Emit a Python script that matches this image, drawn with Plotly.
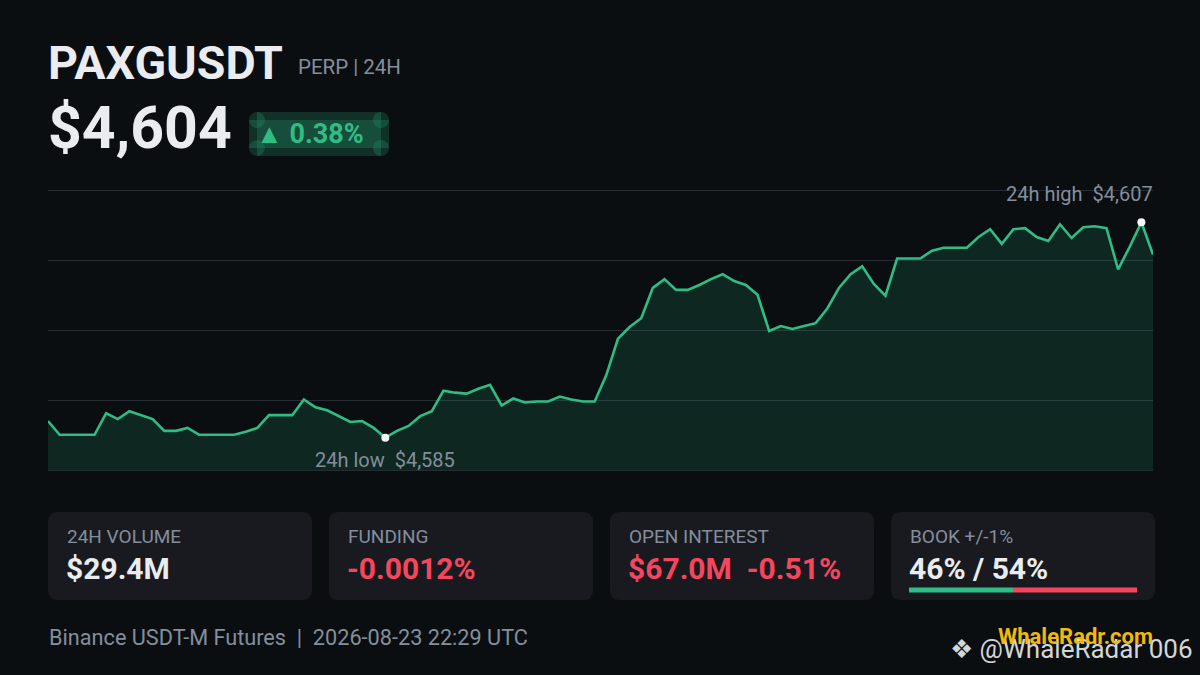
import numpy as np
import plotly.graph_objects as go

# Dados do gráfico (preço a cada 15 min, 24h)
symbol = "PAXGUSDT"
subtitle = "PERP | 24H"
last_price = "$4,604"
change_pct = "▲ 0.38%"

prices = [
    4586.7, 4585.3, 4585.3, 4585.3, 4585.3, 4587.5, 4586.9, 4587.7, 4587.3, 4586.9,
    4585.7, 4585.7, 4586.0, 4585.3, 4585.3, 4585.3, 4585.3, 4585.6, 4586.0, 4587.3,
    4587.3, 4587.3, 4588.9, 4588.1, 4587.8, 4587.2, 4586.6, 4586.7, 4586.0, 4585.0,
    4585.7, 4586.2, 4587.2, 4587.7, 4589.8, 4589.6, 4589.5, 4590.0, 4590.4, 4588.3,
    4589.0, 4588.6, 4588.7, 4588.7, 4589.2, 4588.9, 4588.7, 4588.7, 4591.4, 4595.1,
    4596.3, 4597.2, 4600.3, 4601.2, 4600.1, 4600.1, 4600.6, 4601.2, 4601.7, 4601.0,
    4600.6, 4599.6, 4595.9, 4596.4, 4596.1, 4596.4, 4596.7, 4598.2, 4600.3, 4601.7,
    4602.5, 4600.7, 4599.5, 4603.3, 4603.3, 4603.3, 4604.1, 4604.4, 4604.4, 4604.4,
    4605.5, 4606.3, 4604.8, 4606.3, 4606.4, 4605.5, 4605.1, 4606.8, 4605.4, 4606.5,
    4606.6, 4606.4, 4602.2, 4604.5, 4607.0, 4603.7,
]

card_labels = ["24H VOLUME", "FUNDING", "OPEN INTEREST", "BOOK +/-1%"]
card_values = ["$29.4M", "-0.0012%", "$67.0M&nbsp; -0.51%", "46% / 54%"]
card_colors = ["#eaecef", "#f6465d", "#f6465d", "#eaecef"]
book_bid = 46
book_ask = 54

footer = "Binance USDT-M Futures &nbsp;|&nbsp; 2026-08-23 22:29 UTC"

# Cores
BG = "#0b0e11"
CARD = "#181a20"
GREEN = "#2ebd85"
RED = "#f6465d"
WHITE = "#eaecef"
GREY = "#848e9c"
GRID = "#272b32"
W, H = 1200, 675


def px(x):
    return x / W


def py(y):
    return 1 - y / H


def rounded_rect(x0, y0, x1, y1, r):
    # caminho com cantos arredondados em coordenadas de papel
    return (
        f"M {px(x0 + r)} {py(y0)} L {px(x1 - r)} {py(y0)} "
        f"Q {px(x1)} {py(y0)} {px(x1)} {py(y0 + r)} "
        f"L {px(x1)} {py(y1 - r)} Q {px(x1)} {py(y1)} {px(x1 - r)} {py(y1)} "
        f"L {px(x0 + r)} {py(y1)} Q {px(x0)} {py(y1)} {px(x0)} {py(y1 - r)} "
        f"L {px(x0)} {py(y0 + r)} Q {px(x0)} {py(y0)} {px(x0 + r)} {py(y0)} Z"
    )


x_idx = list(range(len(prices)))
lo, hi = min(prices), max(prices)
i_lo, i_hi = prices.index(lo), prices.index(hi)
pad = (hi - lo) * 0.15
grid_vals = list(np.linspace(lo - pad, hi + pad, 5))

# área do gráfico: 190..470 px; folga de 4 px para as linhas das bordas
top_px, bot_px, gap_px = 190, 470, 4
units_per_px = (grid_vals[-1] - grid_vals[0]) / (bot_px - top_px)
y_range = [grid_vals[0] - gap_px * units_per_px, grid_vals[-1] + gap_px * units_per_px]

fig = go.Figure()

# linha de base invisível (fundo da área preenchida)
fig.add_trace(go.Scatter(
    x=x_idx, y=[grid_vals[0]] * len(prices),
    mode="lines", line=dict(width=0, color=BG),
    hoverinfo="skip",
))

fig.add_trace(go.Scatter(
    x=x_idx, y=prices,
    mode="lines",
    line=dict(color=GREEN, width=2.6),
    fill="tonexty",
    fillcolor="rgba(46,189,133,0.14)",
    hoverinfo="skip",
))

# pontos de mínima e máxima
fig.add_trace(go.Scatter(
    x=[i_lo, i_hi], y=[lo, hi],
    mode="markers",
    marker=dict(color="#f5f5f5", size=8),
    hoverinfo="skip",
))

shapes = []
annotations = []

# badge da variação (retângulos + círculos sobrepostos)
bx0, by0, bx1, by1, br = 249, 112, 389, 156, 8
badge_fill = "rgba(46,189,133,0.2)"
shapes.append(dict(type="rect", xref="paper", yref="paper",
                   x0=px(bx0), x1=px(bx1), y0=py(by0 + br), y1=py(by1 - br),
                   fillcolor=badge_fill, line_width=0))
shapes.append(dict(type="rect", xref="paper", yref="paper",
                   x0=px(bx0 + br), x1=px(bx1 - br), y0=py(by0), y1=py(by1),
                   fillcolor=badge_fill, line_width=0))
for cx in (bx0 + br, bx1 - br):
    for cy in (by0 + br, by1 - br):
        shapes.append(dict(type="circle", xref="paper", yref="paper",
                           x0=px(cx - br), x1=px(cx + br), y0=py(cy - br), y1=py(cy + br),
                           fillcolor=badge_fill, line_width=0))

# cartões
card_x = [48, 329, 610, 891]
for i, label in enumerate(card_labels):
    x0 = card_x[i]
    shapes.append(dict(type="path", xref="paper", yref="paper",
                       path=rounded_rect(x0, 512, x0 + 264, 600, 10),
                       fillcolor=CARD, line_width=0))
    annotations.append(dict(x=px(x0 + 17), y=py(536), xref="paper", yref="paper",
                            text=label, showarrow=False, xanchor="left", yanchor="middle",
                            font=dict(family="Roboto", size=19, color=GREY)))
    annotations.append(dict(x=px(x0 + 16), y=py(568), xref="paper", yref="paper",
                            text=f"<b>{card_values[i]}</b>", showarrow=False,
                            xanchor="left", yanchor="middle",
                            font=dict(family="Roboto", size=30, color=card_colors[i])))

# barra do book
bar_x0, bar_x1 = 909, 1137
bar_mid = bar_x0 + (bar_x1 - bar_x0) * book_bid / (book_bid + book_ask)
shapes.append(dict(type="rect", xref="paper", yref="paper",
                   x0=px(bar_x0), x1=px(bar_mid), y0=py(592.5), y1=py(587.5),
                   fillcolor=GREEN, line_width=0))
shapes.append(dict(type="rect", xref="paper", yref="paper",
                   x0=px(bar_mid), x1=px(bar_x1), y0=py(592.5), y1=py(587.5),
                   fillcolor=RED, line_width=0))

# cabeçalho e rodapé
header = [
    dict(x=px(46), y=py(63), text=f"<b>{symbol}</b>",
         font=dict(family="Roboto", size=46.5, color=WHITE)),
    dict(x=px(296), y=py(67), text=subtitle,
         font=dict(family="Roboto", size=20.5, color=GREY)),
    dict(x=px(46), y=py(128), text=f"<b>{last_price}</b>",
         font=dict(family="Roboto", size=59, color=WHITE)),
    dict(x=px(254), y=py(134), text=f"<b>{change_pct}</b>",
         font=dict(family="Roboto", size=27, color=GREEN)),
    dict(x=px(47), y=py(637), text=footer,
         font=dict(family="Roboto", size=21.7, color=GREY)),
    dict(x=px(948), y=py(649), text="❖ @WhaleRadar 006",
         font=dict(family="Roboto", size=26, color="#d5d5d5")),
    dict(x=px(996), y=py(636), text="<b>WhaleRadr.com</b>",
         font=dict(family="Roboto", size=22, color="#f0b90b")),
]
for a in header:
    a.update(xref="paper", yref="paper", showarrow=False, xanchor="left", yanchor="middle")
annotations += header

# rótulos de mínima / máxima
annotations.append(dict(x=i_lo, y=py(460), xref="x", yref="paper",
                        text=f"24h low&nbsp; ${lo:,.0f}", showarrow=False,
                        xanchor="center", yanchor="middle",
                        font=dict(family="Roboto", size=20, color=GREY)))
annotations.append(dict(x=px(1155), y=py(194), xref="paper", yref="paper",
                        text=f"24h high&nbsp; ${hi:,.0f}", showarrow=False,
                        xanchor="right", yanchor="middle",
                        font=dict(family="Roboto", size=20, color=GREY)))

fig.update_layout(
    width=W, height=H,
    margin=dict(l=0, r=0, t=0, b=0),
    paper_bgcolor=BG,
    plot_bgcolor=BG,
    showlegend=False,
    shapes=shapes,
    annotations=annotations,
    xaxis=dict(domain=[px(48), px(1153)], range=[0, len(prices) - 1],
               showgrid=False, zeroline=False, showticklabels=False, showline=False),
    yaxis=dict(domain=[py(bot_px + gap_px), py(top_px - gap_px)], range=y_range,
               tickvals=grid_vals,
               showgrid=True, gridcolor=GRID, gridwidth=1,
               zeroline=False, showticklabels=False, showline=False),
)

fig.write_html(
    "out.html",
    config={"displayModeBar": False},
    post_script="document.body.style.margin='0';document.body.style.overflow='hidden';",
)
